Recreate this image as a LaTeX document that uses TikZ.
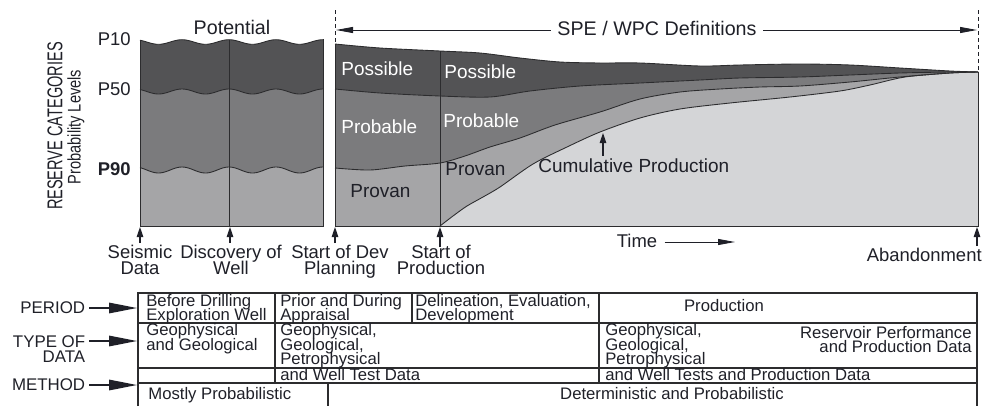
\documentclass[tikz,border=0pt]{standalone}
\usepackage{fontspec}
\setmainfont{Liberation Sans}
\usepackage{graphicx}
\usepackage{xcolor}
\usepackage{tikz}
\usetikzlibrary{arrows.meta,positioning,calc}

\definecolor{possc}{HTML}{535355}
\definecolor{probc}{HTML}{7B7B7D}
\definecolor{provc}{HTML}{A5A5A7}
\definecolor{cumc}{HTML}{D4D5D7}
\definecolor{inkc}{HTML}{1F2028}
\definecolor{rimc}{HTML}{2C2C2E}

\begin{document}
\lineskiplimit=-20pt
\begin{tikzpicture}[x=0.02cm, y=-0.02cm,
    every node/.style={font=\fontsize{10.5}{9.1}\selectfont, text=inkc, inner sep=0pt},
    rim/.style={draw=rimc, line width=0.5pt},
    axarr/.style={-{Triangle[length=2mm, width=1.3mm]}, draw=inkc, line width=0.6pt},
    longarr/.style={-{Triangle[length=3.4mm, width=1.2mm]}, draw=inkc, line width=0.5pt},
    rowarr/.style={-{Triangle[length=5.6mm, width=2.1mm]}, draw=inkc, line width=0.9pt},
    cell/.style={anchor=north west, align=left, font=\fontsize{9.5}{8.22}\selectfont},
    inlay/.style={anchor=base west, text=white, font=\fontsize{10.8}{11}\selectfont}]
  \useasboundingbox (0,0) rectangle (987,406);

  % potential panel
  \foreach \lev/\amp/\col in {42/2.3/possc, 91.5/2.5/probc, 170/3/provc}
    \fill[\col] plot[domain=140:323, samples=80, smooth] (\x,{\lev-\amp*cos((\x-229)/47*360)}) -- (323,226) -- (140,226) -- cycle;
  \foreach \lev/\amp in {42/2.3, 91.5/2.5, 170/3}
    \draw[rim] plot[domain=140:323, samples=80, smooth] (\x,{\lev-\amp*cos((\x-229)/47*360)});
  \draw[rim] (140,40) -- (140,226) -- (323,226) -- (323,39);
  \draw[rim] (229,39.7) -- (229,226);

  % reserves panel
  \fill[possc] plot[smooth] coordinates {(335,44) (380,48) (440,51) (480,53) (520,58) (560,62) (600,63) (640,63) (700,66) (740,65) (800,64) (850,65) (900,68) (950,71) (978,72)} -- (978,226) -- (335,226) -- cycle;
  \fill[probc] plot[smooth] coordinates {(335,89) (380,93) (440,96) (490,97) (530,91) (580,86) (640,83) (700,80) (740,78) (800,77) (850,75) (900,73) (950,72) (978,72)} -- (978,226) -- (335,226) -- cycle;
  \fill[provc] plot[smooth] coordinates {(335,168) (370,170) (405,166) (440,163) (465,156) (490,147) (520,138) (555,125) (600,112) (640,99) (680,92) (720,89) (760,87) (800,86) (850,82) (900,77) (950,73) (978,72)} -- (978,226) -- (335,226) -- cycle;
  \fill[cumc] plot[smooth] coordinates {(440,226) (453,216) (467,206) (483,197) (500,187) (533,164) (567,147) (600,132) (640,118) (680,109) (730,103) (790,97) (840,91) (870,85) (905,77) (950,73) (978,72)} -- (978,226) -- cycle;
  \draw[rim] plot[smooth] coordinates {(335,44) (380,48) (440,51) (480,53) (520,58) (560,62) (600,63) (640,63) (700,66) (740,65) (800,64) (850,65) (900,68) (950,71) (978,72)};
  \draw[rim] plot[smooth] coordinates {(335,89) (380,93) (440,96) (490,97) (530,91) (580,86) (640,83) (700,80) (740,78) (800,77) (850,75) (900,73) (950,72) (978,72)};
  \draw[rim] plot[smooth] coordinates {(335,168) (370,170) (405,166) (440,163) (465,156) (490,147) (520,138) (555,125) (600,112) (640,99) (680,92) (720,89) (760,87) (800,86) (850,82) (900,77) (950,73) (978,72)};
  \draw[rim] plot[smooth] coordinates {(440,226) (453,216) (467,206) (483,197) (500,187) (533,164) (567,147) (600,132) (640,118) (680,109) (730,103) (790,97) (840,91) (870,85) (905,77) (950,73) (978,72)};
  \draw[rim] (335,44) -- (335,226) -- (978,226) -- (978,72);
  \draw[rim] (440,51) -- (440,226);
  \draw[inkc, line width=0.5pt, dash pattern=on 2.4pt off 1.6pt] (335,10) -- (335,44) (978,10) -- (978,72);

  % headings
  \node (pot) [anchor=base, font=\fontsize{11.2}{12}\selectfont] at (232,34) {Potential};
  \node (spe) [anchor=base, inner xsep=3.5pt, font=\fontsize{11.2}{12}\selectfont] at (657,35) {SPE / WPC Definitions};
  \coordinate (spe-l) at (336,30);
  \coordinate (spe-r) at (977,30);
  \draw[longarr] (spe.west |- spe-l) -- (spe-l);
  \draw[longarr] (spe.east |- spe-r) -- (spe-r);

  \node (rescat) [rotate=90] at (55,126) {\fontsize{12.2}{12}\selectfont\scalebox{0.68}[1]{RESERVE CATEGORIES}};
  \node (problev) [rotate=90] at (76,127) {\fontsize{10.4}{11}\selectfont\scalebox{0.8}[1]{Probability Levels}};
  \node (p10) [anchor=base east] at (131,45) {P10};
  \node (p50) [anchor=base east] at (131,95) {P50};
  \node (p90) [anchor=base east, font=\fontsize{10.5}{11}\selectfont\bfseries] at (131,175) {P90};

  % category labels
  \node (poss-a) [inlay] at (341,75) {Possible};
  \node (poss-b) [inlay] at (444,78) {Possible};
  \node (prob-a) [inlay] at (341,133) {Probable};
  \node (prob-b) [inlay] at (443,127) {Probable};
  \node (prov-a) [inlay, text=inkc] at (350,197) {Provan};
  \node (prov-b) [inlay, text=inkc] at (445,175) {Provan};
  \node (cum) [anchor=base west, font=\fontsize{10.8}{11}\selectfont] at (538,172) {Cumulative Production};
  \coordinate (cum-tip) at (603,133);
  \draw[axarr] (cum.north -| cum-tip) ++(0,-2) -- (cum-tip);

  \node (time) [anchor=base, inner xsep=4pt] at (637,247) {Time};
  \coordinate (time-end) at (735,242);
  \draw[longarr] (time.east |- time-end) -- (time-end);

  % milestones along the time axis
  \coordinate (t-seis) at (140,227);
  \coordinate (t-well) at (230,227);
  \coordinate (t-dev) at (335,227);
  \coordinate (t-prod) at (440,227);
  \coordinate (t-aban) at (977,227);
  \node (seis) [anchor=north, align=center] at (140,245) {Seismic\\Data};
  \node (well) [anchor=north, align=center] at (231,245) {Discovery of\\Well};
  \node (dev) [anchor=north, align=center] at (340,245) {Start of Dev\\Planning};
  \node (prod) [anchor=north, align=center] at (441,245) {Start of\\Production};
  \node (aban) [anchor=north east] at (982,248) {Abandonment};
  \draw[axarr] (seis.north -| t-seis) ++(0,-2) -- (t-seis);
  \draw[axarr] (well.north -| t-well) ++(0,-2) -- (t-well);
  \draw[axarr] (dev.north -| t-dev) ++(0,-2) -- (t-dev);
  \draw[axarr] (prod.north -| t-prod) ++(0,2) -- (t-prod);
  \draw[axarr] (aban.north -| t-aban) ++(0,-2) -- (t-aban);

  % table
  \draw[rim, line width=0.6pt] (138,406) -- (138,293) -- (977,293) -- (977,406);
  \draw[rim, line width=0.6pt] (138,323) -- (977,323) (138,368) -- (977,368) (138,383) -- (977,383);
  \draw[rim, line width=0.6pt] (275,293) -- (275,383) (412,293) -- (412,323) (599,293) -- (599,383) (328,383) -- (328,406);

  \node (c-drill) [cell] at (146,294) {Before Drilling\\Exploration Well};
  \node (c-appr) [cell] at (280,294) {Prior and During\\Appraisal};
  \node (c-deli) [cell] at (415,294) {Delineation, Evaluation,\\Development};
  \node (c-prod) [anchor=base, font=\fontsize{9.5}{8.2}\selectfont] at (724,311) {Production};
  \node (c-geo) [cell] at (146,323.5) {Geophysical\\and Geological};
  \node (c-petro) [cell] at (280,323.5) {Geophysical,\\Geological,\\Petrophysical};
  \node (c-wtest) [cell] at (280,368.5) {and Well Test Data};
  \node (c-petro2) [cell] at (605,323.5) {Geophysical,\\Geological,\\Petrophysical};
  \node (c-resv) [cell, anchor=north east, align=right] at (972,326) {Reservoir Performance\\and Production Data};
  \node (c-wprod) [cell] at (605,368.5) {and Well Tests and Production Data};
  \node (c-mostly) [anchor=base west, font=\fontsize{9.5}{8.2}\selectfont] at (148,399) {Mostly Probabilistic};
  \node (c-det) [anchor=base, font=\fontsize{9.5}{8.2}\selectfont] at (672,399) {Deterministic and Probabilistic};

  % row labels
  \node (period) [anchor=base east, inner xsep=2pt, font=\fontsize{9.6}{8.6}\selectfont] at (89,313) {PERIOD};
  \node (datatype) [anchor=north east, align=right, inner xsep=2pt, font=\fontsize{9.6}{8.6}\selectfont] at (89,335) {TYPE OF\\DATA};
  \node (method) [anchor=base east, inner xsep=2pt, font=\fontsize{9.6}{8.6}\selectfont] at (89,390) {METHOD};
  \coordinate (period-tip) at (137,308);
  \coordinate (datatype-tip) at (137,341);
  \coordinate (method-tip) at (137,385);
  \draw[rowarr] (period.east |- period-tip) -- (period-tip);
  \draw[rowarr] (datatype.east |- datatype-tip) -- (datatype-tip);
  \draw[rowarr] (method.east |- method-tip) -- (method-tip);
\end{tikzpicture}
\end{document}
